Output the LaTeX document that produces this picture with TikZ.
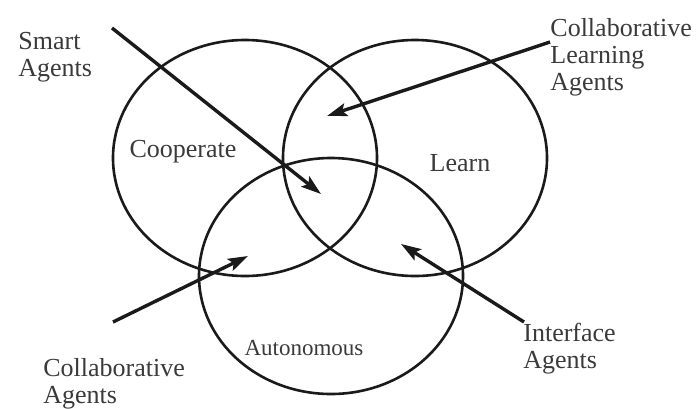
\documentclass[tikz,border=0pt]{standalone}
\usepackage{fontspec}
\setmainfont{Liberation Serif}
\usetikzlibrary{arrows.meta,shapes.geometric}
\definecolor{cInk}{HTML}{1A1A1A}
\definecolor{cText}{HTML}{3A3A3A}
\tikzset{
  set/.style={ellipse, draw=cInk, line width=1.3pt, inner sep=0pt,
              minimum width=132pt, minimum height=118pt},
  lbl/.style={text=cText, font=\fontsize{13}{13.5}\selectfont, inner sep=0pt, align=left},
  pointer/.style={-{Stealth[length=10pt, width=6.5pt, inset=2pt]}, line width=1.7pt, draw=cInk},
}
\begin{document}
\begin{tikzpicture}[x=0.5pt, y=-0.5pt]
  \useasboundingbox (0,0) rectangle (700,408);
  % the three sets
  \node[set] (coop) at (245,158) {};
  \node[set] (learn) at (415,158) {};
  \node[set] (auto) at (331,276) {};
  \node[lbl] (tcoop) at (183,152) {Cooperate};
  \node[lbl] (tlearn) at (460,163) {Learn};
  \node[lbl, font=\fontsize{11.5}{13.5}\selectfont] (tauto) at (304,348) {Autonomous};
  % agent labels
  \node[lbl, anchor=north west] (smart) at (18,32) {Smart\\Agents};
  \node[lbl, anchor=north west] (cla) at (550,18) {Collaborative\\Learning\\Agents};
  \node[lbl, anchor=north west] (cola) at (43,358) {Collaborative\\Agents};
  \node[lbl, anchor=north west] (iface) at (523,323) {Interface\\Agents};
  % arrow ends
  \coordinate (smartT) at (112,28);
  \coordinate (smartH) at (321,194);
  \coordinate (claT) at (550,42);
  \coordinate (claH) at (327,116);
  \coordinate (colaT) at (113,322);
  \coordinate (colaH) at (248,256);
  \coordinate (ifaceT) at (524,322);
  \coordinate (ifaceH) at (401,244);
  \draw[pointer] (smartT) -- (smartH);
  \draw[pointer] (claT) -- (claH);
  \draw[pointer] (colaT) -- (colaH);
  \draw[pointer] (ifaceT) -- (ifaceH);
\end{tikzpicture}
\end{document}
